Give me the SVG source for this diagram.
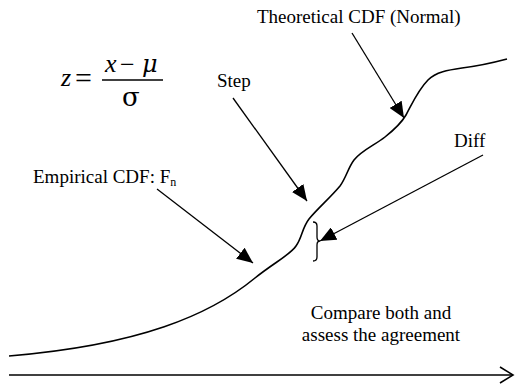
<svg xmlns="http://www.w3.org/2000/svg" width="515" height="387" viewBox="0 0 515 387">
<style>
text{font-family:"Liberation Serif","Times New Roman",serif;fill:#000}
.lbl{font-size:19px}
.eq{font-size:26px;font-style:italic}
.gr{font-family:"DejaVu Serif","Liberation Serif",serif;font-size:24px}
.ln{fill:none;stroke:#000;stroke-width:1.3}
.crv{fill:none;stroke:#000;stroke-width:1.6}
</style>
<defs>
<marker id="ah" viewBox="0 0 16 14" refX="16" refY="7" markerWidth="16" markerHeight="14" markerUnits="userSpaceOnUse" orient="auto">
<path d="M0,0 L16,7 L0,14 z" fill="#000"/>
</marker>
</defs>
<rect width="515" height="387" fill="#fff"/>
<g id="equation">
<text class="eq" x="61" y="86">z</text>
<text x="75" y="88" style="font-size:30px">=</text>
<line x1="102" y1="80" x2="163" y2="80" stroke="#000" stroke-width="1.3"/>
<text class="eq" x="105" y="72">x</text>
<text x="120" y="73" style="font-size:26px">−</text>
<text class="gr" x="142" y="72" style="font-style:italic">μ</text>
<text class="gr" x="122" y="106" style="font-size:26px">σ</text>
</g>
<g id="curve">
<path class="crv" d="M9,356 C140,345 210,315 255,278 C275,262 290,255 296,246 C302,238 302,228 309,219 C318,208 330,198 340,186 C346,178 348,168 354,160 C362,150 375,145 385,137 C395,129 402,122 406,115 C412,104 418,90 428,80 C436,72 448,70 462,68 C478,66 492,63 507,59"/>
</g>
<g id="brace">
<path class="ln" d="M313,222 Q317,222 317,226 L317,237 Q317,241 320,241 Q317,241 317,245 L317,257 Q317,261 313,261"/>
</g>
<g id="axis">
<line class="crv" x1="9" y1="375" x2="513" y2="375"/>
<path class="crv" d="M500,367 L513,375 L500,383"/>
</g>
<g id="label-theoretical"><text class="lbl" x="257" y="23">Theoretical CDF (Normal)</text></g>
<g id="label-step"><text class="lbl" x="217" y="87">Step</text></g>
<g id="label-empirical"><text class="lbl" x="33" y="183">Empirical CDF: F<tspan style="font-size:12px" dy="3">n</tspan></text></g>
<g id="label-diff"><text class="lbl" x="454" y="147">Diff</text></g>
<g id="label-compare">
<text class="lbl" x="381" y="319" text-anchor="middle">Compare both and</text>
<text class="lbl" x="381" y="341" text-anchor="middle">assess the agreement</text>
</g>
<g id="connectors">
<line class="ln" x1="352" y1="33" x2="404" y2="118" marker-end="url(#ah)"/>
<line class="ln" x1="233" y1="98" x2="307" y2="201" marker-end="url(#ah)"/>
<line class="ln" x1="157" y1="189" x2="253" y2="263" marker-end="url(#ah)"/>
<line class="ln" x1="483" y1="155" x2="320" y2="241" marker-end="url(#ah)"/>
</g>
</svg>
